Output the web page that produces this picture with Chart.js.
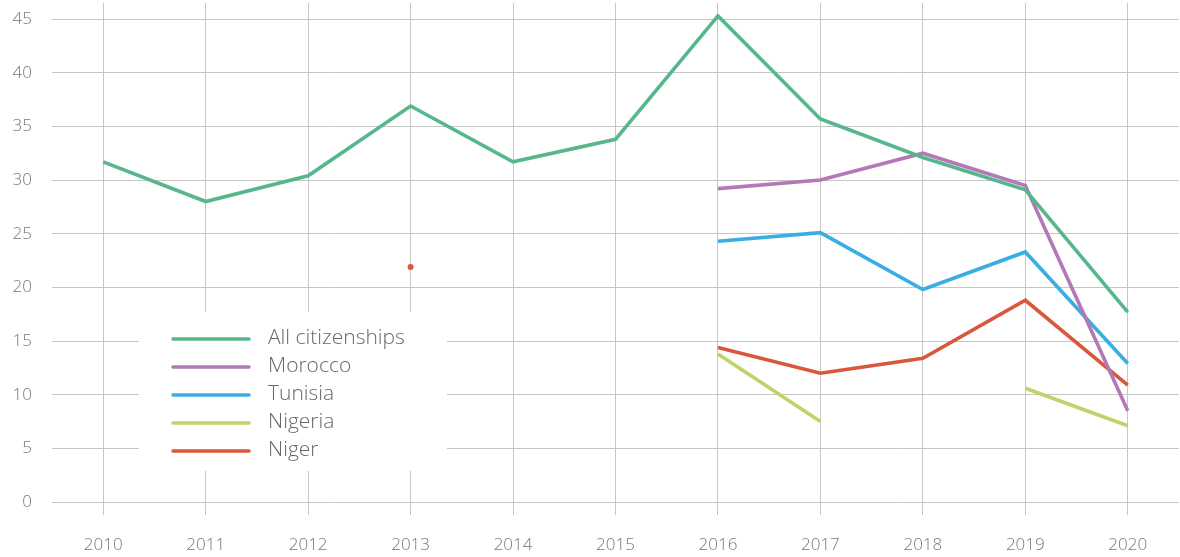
<!DOCTYPE html>
<html>
<head>
<meta charset="utf-8">
<script src="https://cdn.jsdelivr.net/npm/chart.js@4/dist/chart.umd.min.js"></script>
<style>
  html, body { margin: 0; padding: 0; background: #ffffff; }
  #wrap { width: 1180px; height: 557px; position: relative; }
</style>
</head>
<body>
<div id="wrap"><canvas id="c"></canvas></div>
<script>
const years = ['2010','2011','2012','2013','2014','2015','2016','2017','2018','2019','2020'];
const seriesNames = ['All citizenships', 'Morocco', 'Tunisia', 'Nigeria', 'Niger'];
const allCitizenships = [31.7, 28.0, 30.4, 36.9, 31.7, 33.8, 45.3, 35.7, 32.1, 29.1, 17.7];
const morocco = [null, null, null, null, null, null, 29.2, 30.0, 32.5, 29.5, 8.5];
const tunisia = [null, null, null, null, null, null, 24.3, 25.1, 19.8, 23.3, 12.9];
const nigeria = [null, null, null, null, null, null, 13.8, 7.5, null, 10.6, 7.1];
const niger = [null, null, null, 21.9, null, null, 14.4, 12.0, 13.4, 18.8, 10.9];
const yTicks = [0, 5, 10, 15, 20, 25, 30, 35, 40, 45];

const colors = ['#55b78b', '#b278b8', '#3aaee2', '#bcd46c', '#d9573a'];
const values = [allCitizenships, morocco, tunisia, nigeria, niger];

const FONT = '"Open Sans", Lato, sans-serif';

function isolatedRadius(ctx) {
  const d = ctx.dataset.data;
  const i = ctx.dataIndex;
  if (d[i] == null) return 0;
  const prev = i > 0 ? d[i - 1] : null;
  const next = i < d.length - 1 ? d[i + 1] : null;
  return (prev == null && next == null) ? 3 : 0;
}

const datasets = seriesNames.map((name, k) => ({
  label: name,
  data: values[k],
  borderColor: colors[k],
  backgroundColor: colors[k],
  borderWidth: 3.6,
  pointRadius: isolatedRadius,
  pointHoverRadius: isolatedRadius,
  pointBorderWidth: 0,
  spanGaps: false,
  tension: 0,
  fill: false
}));

const legendBox = {
  id: 'legendBox',
  beforeDatasetsDraw(chart) {
    const ctx = chart.ctx;
    ctx.save();
    ctx.fillStyle = '#ffffff';
    ctx.fillRect(139, 312, 308, 159);
    const startY = 339;
    const step = 28;
    chart.data.datasets.forEach((ds, i) => {
      const y = startY + i * step;
      ctx.strokeStyle = ds.borderColor;
      ctx.lineWidth = 3.5;
      ctx.lineCap = 'round';
      ctx.beginPath();
      ctx.moveTo(173, y);
      ctx.lineTo(249, y);
      ctx.stroke();
      ctx.fillStyle = '#686868';
      ctx.font = '300 21px ' + FONT;
      ctx.textBaseline = 'middle';
      ctx.textAlign = 'left';
      ctx.fillText(ds.label, 268, y - 1);
    });
    ctx.restore();
  }
};

new Chart(document.getElementById('c'), {
  type: 'line',
  data: { labels: years, datasets: datasets },
  plugins: [legendBox],
  options: {
    responsive: true,
    maintainAspectRatio: false,
    animation: false,
    layout: { padding: { top: 3, left: 0, right: 1, bottom: 0 } },
    plugins: {
      legend: { display: false },
      tooltip: { enabled: false }
    },
    scales: {
      x: {
        type: 'category',
        offset: true,
        border: { display: false },
        grid: {
          color: '#c6c6c6',
          lineWidth: 1,
          offset: false,
          drawTicks: true,
          tickLength: 13,
          tickColor: '#c6c6c6'
        },
        ticks: {
          color: '#777777',
          font: { family: FONT, size: 17, weight: '300' },
          padding: 20,
          maxRotation: 0
        },
        afterFit(scale) { scale.height = 55; scale.paddingLeft = 0; scale.paddingRight = 0; }
      },
      y: {
        min: 0,
        max: 46.5,
        border: { display: false },
        grid: {
          color: '#c6c6c6',
          lineWidth: 1,
          drawTicks: false
        },
        ticks: {
          stepSize: 5,
          includeBounds: false,
          color: '#777777',
          font: { family: FONT, size: 17, weight: '300' },
          padding: 20,
          callback: (v) => yTicks.includes(v) ? String(v) : null
        },
        afterFit(scale) { scale.width = 52; scale.paddingTop = 0; scale.paddingBottom = 0; }
      }
    }
  }
});
</script>
</body>
</html>
